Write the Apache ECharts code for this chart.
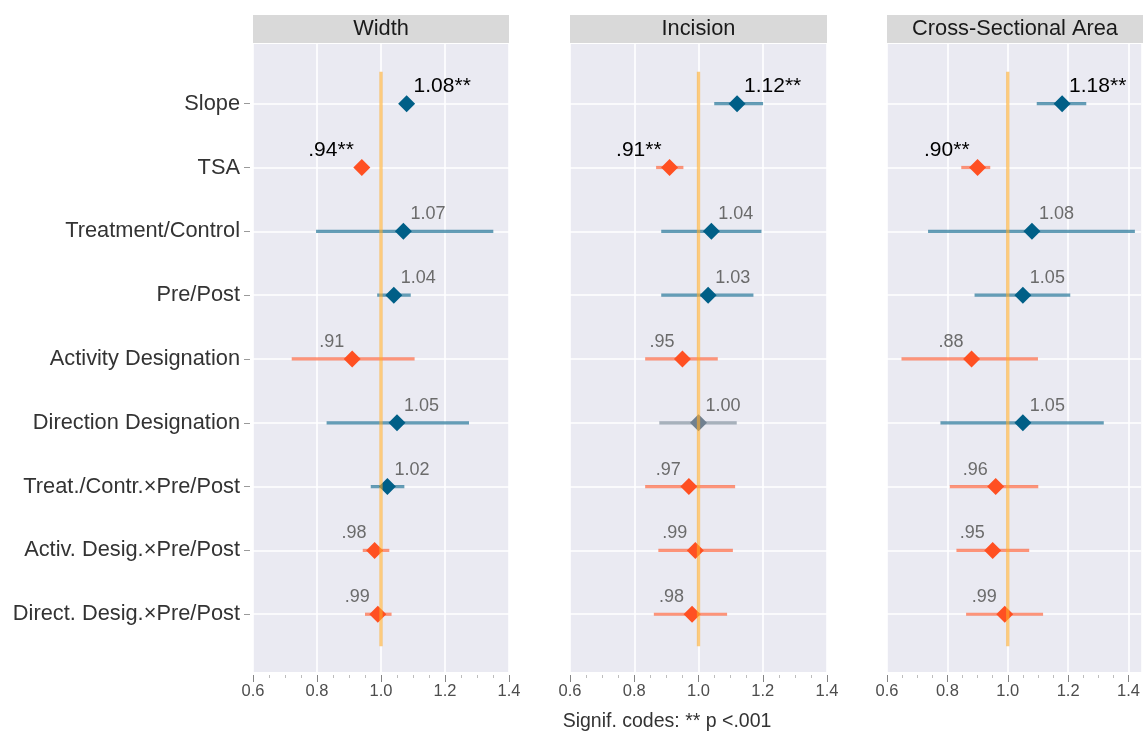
<!DOCTYPE html>
<html><head><meta charset="utf-8">
<script src="https://cdn.jsdelivr.net/npm/echarts@6/dist/echarts.min.js"></script>
<style>html,body{margin:0;padding:0;background:#fff}#c{width:1143px;height:734px}</style>
</head><body><div id="c"></div>
<script>
// ---------- data ----------
const categories = ['Slope','TSA','Treatment/Control','Pre/Post','Activity Designation','Direction Designation','Treat./Contr.\u00d7Pre/Post','Activ. Desig.\u00d7Pre/Post','Direct. Desig.\u00d7Pre/Post'];
const panels = ['Width','Incision','Cross-Sectional Area'];
const widthEst = [1.08,0.94,1.07,1.04,0.91,1.05,1.02,0.98,0.99];
const widthLo  = [1.065,0.930,0.797,0.988,0.721,0.830,0.968,0.943,0.950];
const widthHi  = [1.095,0.955,1.351,1.093,1.105,1.275,1.073,1.026,1.033];
const incisionEst = [1.12,0.91,1.04,1.03,0.95,1.00,0.97,0.99,0.98];
const incisionLo  = [1.049,0.868,0.884,0.884,0.834,0.878,0.834,0.875,0.861];
const incisionHi  = [1.201,0.953,1.196,1.171,1.060,1.119,1.114,1.107,1.089];
const csaEst = [1.18,0.90,1.08,1.05,0.88,1.05,0.96,0.95,0.99];
const csaLo  = [1.096,0.846,0.736,0.890,0.648,0.777,0.808,0.830,0.862];
const csaHi  = [1.260,0.942,1.421,1.207,1.100,1.318,1.101,1.071,1.117];
const significant = [true,true,false,false,false,false,false,false,false];
const xTicks = [0.6,0.8,1.0,1.2,1.4];
const xMinorTicks = [0.65,0.7,0.75,0.85,0.9,0.95,1.05,1.1,1.15,1.25,1.3,1.35];
const referenceValue = 1;
const caption = 'Signif. codes: ** p <.001';

// ---------- layout / style ----------
const FONT = '"Liberation Sans", Arial, Helvetica, sans-serif';
const gridLeft = [253, 570, 887];
const gridWidth = [256, 257, 256];
const xMin = [0.6, 0.6, 0.6];
const xMax = [1.4, 1.4, 1.442];
const TOP = 44, HEIGHT = 628;
const Y_MIN = 0.095, Y_MAX = 9.935;

const BLUE = '#005F87', ORANGE = '#FF5022', GREY = '#708090';
const BLUE_L = 'rgba(0,95,135,0.6)', ORANGE_L = 'rgba(255,80,34,0.6)', GREY_L = 'rgba(112,128,144,0.6)';
function ptColor(e){ return e > 1 ? BLUE : (e < 1 ? ORANGE : GREY); }
function lnColor(e){ return e > 1 ? BLUE_L : (e < 1 ? ORANGE_L : GREY_L); }
function fmt(e, sig){
  let s = e.toFixed(2);
  if (e < 1) s = s.replace(/^0/, '');
  return s + (sig ? '**' : '');
}

const ests = [widthEst, incisionEst, csaEst];
const los = [widthLo, incisionLo, csaLo];
const his = [widthHi, incisionHi, csaHi];
const rowY = categories.map((c, i) => categories.length - i);

const grid = [], xAxis = [], yAxis = [], series = [], graphic = [];
panels.forEach((name, p) => {
  grid.push({left: gridLeft[p], width: gridWidth[p], top: TOP, height: HEIGHT,
    show: true, backgroundColor: '#EAEAF2', borderWidth: 0, containLabel: false});
  // major axis
  xAxis.push({type: 'value', gridIndex: p, min: xMin[p], max: xMax[p], position: 'bottom', offset: 3,
    axisLine: {show: false},
    axisTick: {show: true, length: 7, customValues: xTicks, lineStyle: {color: '#858585', width: 1}},
    axisLabel: {show: true, customValues: xTicks, margin: 8, fontFamily: FONT, fontSize: 16.5, color: '#4d4d4d',
      formatter: v => v.toFixed(1)},
    splitLine: {show: true, lineStyle: {color: '#ffffff', width: 1.6}}
  });
  // minor tick axis
  xAxis.push({type: 'value', gridIndex: p, min: xMin[p], max: xMax[p], position: 'bottom', offset: 3,
    axisLine: {show: false},
    axisTick: {show: true, length: 3, customValues: xMinorTicks, lineStyle: {color: '#bdbdbd', width: 1}},
    axisLabel: {show: false}, splitLine: {show: false}
  });
  yAxis.push({type: 'value', gridIndex: p, min: Y_MIN, max: Y_MAX, offset: 3,
    axisLine: {show: false},
    axisTick: {show: p === 0, length: 6, customValues: rowY, lineStyle: {color: '#9a9a9a', width: 1}},
    axisLabel: {show: p === 0, customValues: rowY, margin: 10, fontFamily: FONT, fontSize: 21.8, color: '#333333',
      formatter: v => categories[categories.length - Math.round(v)] || ''},
    splitLine: {show: true, lineStyle: {color: '#ffffff', width: 1.6}}
  });

  const est = ests[p], lo = los[p], hi = his[p];
  // confidence intervals
  series.push({type: 'custom', xAxisIndex: 2 * p, yAxisIndex: p, z: 2, silent: true,
    encode: {x: [0, 1], y: 2},
    data: categories.map((c, i) => [lo[i], hi[i], rowY[i], est[i]]),
    renderItem: (params, api) => {
      const a = api.coord([api.value(0), api.value(2)]);
      const b = api.coord([api.value(1), api.value(2)]);
      return {type: 'line', shape: {x1: a[0], y1: a[1], x2: b[0], y2: b[1]},
        style: {stroke: lnColor(api.value(3)), lineWidth: 3.2}};
    }
  });
  // point estimates + labels
  series.push({type: 'scatter', xAxisIndex: 2 * p, yAxisIndex: p, z: 3, silent: true,
    symbol: 'diamond', symbolSize: 17,
    data: categories.map((c, i) => {
      const e = est[i], sig = significant[i], right = e >= 1;
      return {value: [e, rowY[i]], itemStyle: {color: ptColor(e), opacity: 1},
        label: {show: true, position: 'inside', formatter: fmt(e, sig),
          align: right ? 'left' : 'right', verticalAlign: 'middle',
          offset: [right ? 7 : -8, -17],
          fontFamily: FONT, fontSize: sig ? 21 : 18, color: sig ? '#000000' : '#6b6b6b'}};
    })
  });
  // reference line
  series.push({type: 'custom', xAxisIndex: 2 * p, yAxisIndex: p, z: 5, silent: true,
    encode: {x: 0, y: [1, 2]},
    data: [[referenceValue, 0.5, categories.length + 0.5]],
    renderItem: (params, api) => {
      const a = api.coord([api.value(0), api.value(1)]);
      const b = api.coord([api.value(0), api.value(2)]);
      return {type: 'line', shape: {x1: a[0], y1: a[1], x2: b[0], y2: b[1]},
        style: {stroke: 'rgba(255,172,40,0.6)', lineWidth: 3.3}};
    }
  });
  // strip header
  graphic.push({type: 'rect', left: gridLeft[p], top: 15, shape: {width: gridWidth[p], height: 28},
    style: {fill: '#D9D9D9'}, silent: true});
  graphic.push({type: 'text', x: gridLeft[p] + gridWidth[p] / 2, y: 29,
    style: {text: name, fill: '#1a1a1a', font: '21.8px ' + FONT, textAlign: 'center', textVerticalAlign: 'middle'}, silent: true});
});
graphic.push({type: 'text', x: 667, y: 722,
  style: {text: caption, fill: '#333333', font: '19.5px ' + FONT, textAlign: 'center', textVerticalAlign: 'middle'}, silent: true});

const chart = echarts.init(document.getElementById('c'), null, {renderer: 'canvas'});
chart.setOption({animation: false, backgroundColor: '#ffffff', grid, xAxis, yAxis, series, graphic});
</script>
</body></html>
